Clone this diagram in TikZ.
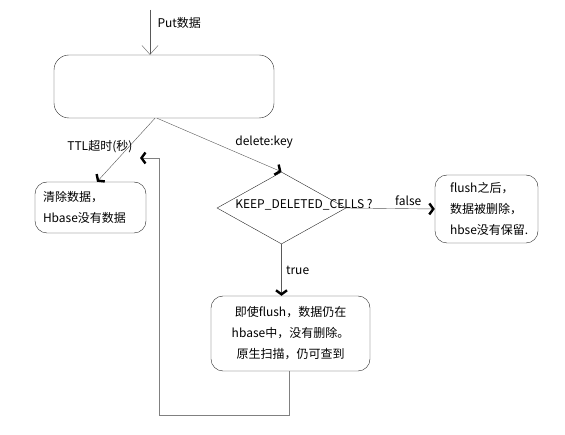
\documentclass[tikz,border=0pt]{standalone}
\usepackage{fontspec}
\setmainfont{Noto Sans CJK SC}
\usepackage{tikz}
\usetikzlibrary{shapes,arrows.meta}

\begin{document}
\begin{tikzpicture}[x=1pt,y=-1pt,font=\fontsize{12}{21}\selectfont]
\tikzstyle{box}=[draw=black!85,rounded corners=12pt,inner sep=0pt]
\tikzstyle{line}=[draw=black!65]
\tikzstyle{go}=[line,-{Straight Barb[length=4pt,width=11pt,line width=2.4pt,color=black]}]
\tikzstyle{put}=[line,-{Straight Barb[length=9pt,width=16pt,line width=0.4pt]}]
\useasboundingbox (0,0) rectangle (565,435);
    % boxes
    \node[box,minimum width=220,minimum height=63,rounded corners=15pt] (store) at (164,86.5) {};
    \node[box,minimum width=111,minimum height=51,text width=95,align=left] (clear) at (90.5,207.5)
        {清除数据，\\Hbase没有数据};
    \node[draw=black!85,diamond,minimum width=129,minimum height=72,inner sep=0pt] (keep) at (281.5,208) {};
    \node (keeptext) at (304,205) {KEEP\_DELETED\_CELLS ?};
    \node[box,minimum width=103,minimum height=68,text width=73,align=left] (drop) at (486.5,209)
        {flush之后，\\数据被删除，\\hbse没有保留.};
    \node[box,minimum width=159,minimum height=75,text width=140,align=center] (kept) at (290.5,333.5)
        {即使flush，数据仍在\\hbase中，没有删除。\\原生扫描，仍可查到};
    % arrows
    \coordinate (in) at (150,10);
    \coordinate (corner) at (159,415);
    \coordinate (back) at (140,158);
    \draw[put] (in) -- (in |- store.north) node[pos=0.3,right=4pt] {Put数据};
    \draw[go] ([xshift=-9]store.south) -- ([xshift=6.5]clear.north)
        node[pos=0.45,left=2pt,xshift=9pt] {TTL超时(秒)};
    \draw[go] ([xshift=-7]store.south) -- (keep.north)
        node[pos=0.7,above=2pt,xshift=20pt,yshift=2pt] {delete:key};
    \draw[go] (keep.east) -- (drop.west) node[pos=0.7,above=0pt] {false};
    \draw[go] (keep.south) -- (keep.south |- kept.north) node[midway,right=1pt] {true};
    \draw[go,draw=black!50] ([xshift=-1.5]kept.south) |- (corner) |- (back);
\end{tikzpicture}
\end{document}
